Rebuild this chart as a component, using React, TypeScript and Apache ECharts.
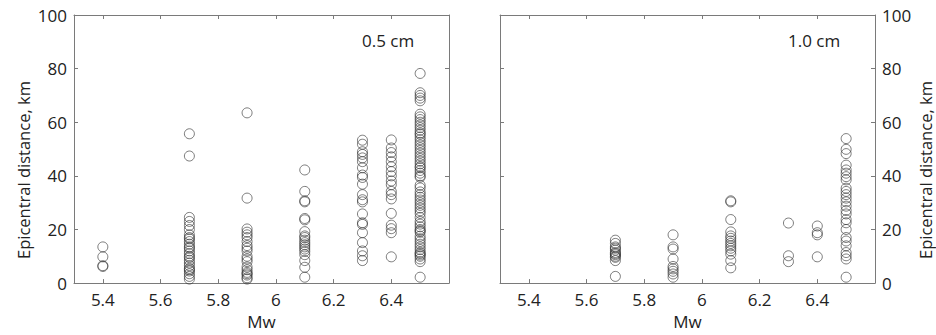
import React, { useEffect, useRef } from "react";
import * as echarts from "echarts";

const xTicks = [5.4, 5.6, 5.8, 6, 6.2, 6.4];
const yTicks = [0, 20, 40, 60, 80, 100];
const panelLabels = ["0.5 cm", "1.0 cm"];

// Panel 1 (0.5 cm): epicentral distances (km) per magnitude
const a54 = [13.5, 9.8, 6.5, 6.2];
const a57 = [55.7, 47.4, 24.5, 23, 21.5, 20, 18, 17, 16.5, 15.5, 14.5, 13.5, 13, 12, 11, 10, 9.5, 8.5, 7.5, 6.5, 5.5, 5, 4.5, 3.5, 2.5, 1.5];
const a59 = [63.5, 31.7, 20.2, 19, 18, 17, 15.5, 14, 13, 12, 10, 9, 8, 6, 5, 4, 3.5, 3, 2, 1.5];
const a61 = [42.2, 34.2, 30.7, 30.3, 24.1, 23.6, 19.2, 17.6, 17, 16, 15.1, 14.3, 13.5, 12.7, 11.8, 10.6, 8.4, 5.9, 2.2];
const a63 = [53.3, 51.8, 49, 48, 46.7, 45.3, 43, 40.3, 39.4, 36.9, 33, 31.1, 30.3, 25.8, 22.5, 21.9, 18.8, 15.1, 12, 10.2, 8.4];
const a64 = [53.4, 50.4, 48.7, 47.1, 45.3, 43.4, 41.6, 40, 38.1, 36.7, 34.2, 33, 31.4, 26, 21.6, 20.3, 18.8, 9.8];
const a65 = [78.2, 71, 70, 69, 68, 63, 62, 61, 60, 59, 58, 57, 56, 55.5, 54.5, 53.5, 52.5, 51.5, 50.5, 49.5, 48.5, 47.5, 46.5, 45.5, 44.5, 43.5, 43, 42, 41, 40, 39.5, 36.5, 35.5, 34, 33, 32, 31, 30, 29, 28, 27, 26, 24.5, 23, 22, 21, 20, 19.5, 19, 17.5, 16.5, 15.5, 14.5, 13.5, 12.5, 11.5, 11, 10.5, 10, 9, 8, 2.2];

// Panel 2 (1.0 cm)
const b57 = [16, 14.8, 13.5, 13, 12.3, 11.4, 11, 10.6, 10, 9.6, 8.4, 2.5];
const b59 = [18, 13.5, 12.7, 9, 6.2, 5.3, 4.4, 3.4, 2.2];
const b61 = [30.7, 30.3, 23.7, 19.1, 17.6, 16.7, 15.7, 14.8, 13.9, 13, 12, 10.8, 8.4, 5.7];
const b63 = [22.4, 10.2, 8];
const b64 = [21.3, 18.8, 18, 9.8];
const b65 = [53.9, 49.9, 48.3, 44, 42.2, 41, 39.7, 38.5, 35.4, 34.2, 33, 31.7, 30.3, 28.7, 27.1, 25.8, 23.7, 22.5, 20, 17, 15.7, 13.9, 11.4, 10.2, 9, 2.2];

const groupsA: [number, number[]][] = [[5.4, a54], [5.7, a57], [5.9, a59], [6.1, a61], [6.3, a63], [6.4, a64], [6.5, a65]];
const groupsB: [number, number[]][] = [[5.7, b57], [5.9, b59], [6.1, b61], [6.3, b63], [6.4, b64], [6.5, b65]];

const toPoints = (g: [number, number[]][]) => g.flatMap(([m, arr]) => arr.map((d) => [m, d]));

const FONT = "Open Sans";
const TEXT = "#222222";
const AXIS = "#7a7a7a";

export default function App() {
  const ref = useRef<HTMLDivElement>(null);
  useEffect(() => {
    if (!ref.current) return;
    const chart = echarts.init(ref.current, null, { renderer: "svg" });
    const grids = [
      { left: 74, top: 15, width: 375, height: 271 },
      { left: 500, top: 15, width: 375, height: 271 },
    ];
    const xAxes: any[] = [];
    const yAxes: any[] = [];
    grids.forEach((_, i) => {
      const base = {
        type: "value",
        gridIndex: i,
        min: 5.3,
        max: 6.6,
        axisLine: { show: true, onZero: false, lineStyle: { color: AXIS, width: 1 } },
        axisTick: { show: true, inside: true, length: 4, customValues: xTicks, lineStyle: { color: AXIS } },
        splitLine: { show: false },
      };
      xAxes.push({
        ...base,
        position: "bottom",
        name: "Mw",
        nameLocation: "middle",
        nameGap: 26,
        nameTextStyle: { fontFamily: FONT, fontSize: 17, color: TEXT },
        axisLabel: {
          show: true,
          customValues: xTicks,
          margin: 8,
          fontFamily: FONT,
          fontSize: 17,
          color: TEXT,
          formatter: (v: number) => String(Math.round(v * 10) / 10),
        },
      });
      xAxes.push({ ...base, position: "top", axisLabel: { show: false } });
      const ybase = {
        type: "value",
        gridIndex: i,
        min: 0,
        max: 100,
        interval: 20,
        axisLine: { show: true, onZero: false, lineStyle: { color: AXIS, width: 1 } },
        axisTick: { show: true, inside: true, length: 4, lineStyle: { color: AXIS } },
        splitLine: { show: false },
      };
      const labelSide = i === 0 ? "left" : "right";
      const otherSide = i === 0 ? "right" : "left";
      yAxes.push({
        ...ybase,
        position: labelSide,
        name: "Epicentral distance, km",
        nameLocation: "middle",
        nameGap: 42,
        nameTextStyle: { fontFamily: FONT, fontSize: 16.5, color: TEXT, padding: [0, 42, 0, 0] },
        axisLabel: { show: true, margin: 7, fontFamily: FONT, fontSize: 17, color: TEXT },
      });
      yAxes.push({ ...ybase, position: otherSide, axisLabel: { show: false } });
    });

    const seriesStyle = {
      type: "scatter",
      symbol: "circle",
      symbolSize: 10,
      itemStyle: { color: "rgba(0,0,0,0)", borderColor: "#333333", borderWidth: 0.8 },
      emphasis: { disabled: true },
    };

    chart.setOption({
      animation: false,
      backgroundColor: "#ffffff",
      grid: grids,
      xAxis: xAxes,
      yAxis: yAxes,
      series: [
        { ...seriesStyle, xAxisIndex: 0, yAxisIndex: 0, data: toPoints(groupsA) },
        { ...seriesStyle, xAxisIndex: 2, yAxisIndex: 2, data: toPoints(groupsB) },
      ],
      graphic: [
        {
          type: "text",
          left: 362,
          top: 32,
          style: { text: panelLabels[0], fontFamily: FONT, fontSize: 17, fill: TEXT },
        },
        {
          type: "text",
          left: 788,
          top: 32,
          style: { text: panelLabels[1], fontFamily: FONT, fontSize: 17, fill: TEXT },
        },
      ],
    });
    return () => chart.dispose();
  }, []);
  return <div ref={ref} style={{ width: 936, height: 335, position: "absolute", left: 0, top: 0 }} />;
}
